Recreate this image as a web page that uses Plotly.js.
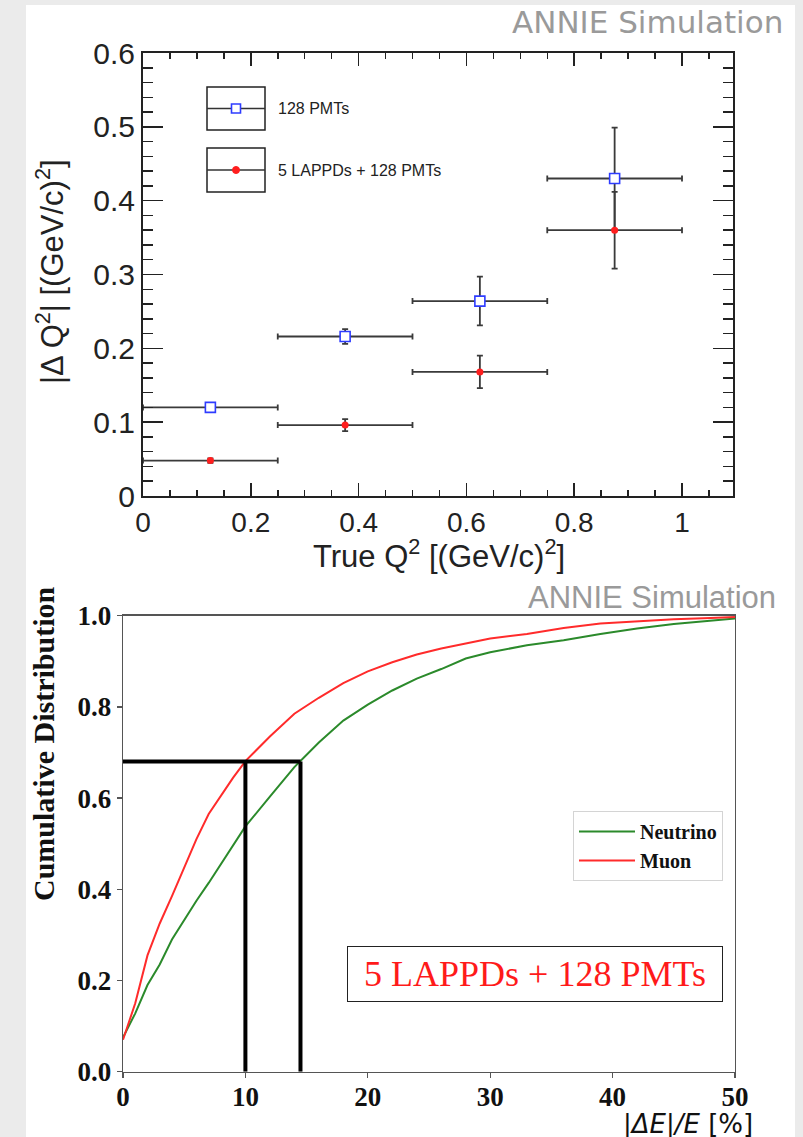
<!DOCTYPE html>
<html>
<head>
<meta charset="utf-8">
<script src="https://cdn.plot.ly/plotly-3.0.1.min.js"></script>
<style>html,body{margin:0;padding:0;background:#ebebeb;}#chart{width:803px;height:1137px;}</style>
</head>
<body>
<div id="chart"></div>
<script>
// ---------- Top panel: |ΔQ²| vs true Q² ----------
const q2Centers = [0.125, 0.375, 0.625, 0.875];
const q2HalfWidths = [0.125, 0.125, 0.125, 0.125];
const pmtDQ2 = [0.120, 0.216, 0.264, 0.430];
const pmtErr = [0.003, 0.010, 0.033, 0.069];
const lappdDQ2 = [0.048, 0.096, 0.168, 0.360];
const lappdErr = [0.003, 0.008, 0.022, 0.052];
const topSeriesNames = ['128 PMTs', '5 LAPPDs + 128 PMTs'];

// ---------- Bottom panel: cumulative |ΔE|/E ----------
const deltaE = [0, 1, 2, 3, 4, 5, 6, 7, 8, 9, 10, 12, 14, 16, 18, 20, 22, 24, 26, 28, 30, 33, 36, 39, 42, 45, 48, 50];
const neutrinoCDF = [0.075, 0.128, 0.190, 0.235, 0.290, 0.333, 0.375, 0.414, 0.455, 0.497, 0.538, 0.603, 0.668, 0.722, 0.770, 0.805, 0.836, 0.862, 0.883, 0.906, 0.920, 0.935, 0.946, 0.960, 0.972, 0.982, 0.989, 0.994];
const muonCDF = [0.070, 0.150, 0.255, 0.325, 0.385, 0.447, 0.510, 0.565, 0.606, 0.645, 0.681, 0.735, 0.785, 0.820, 0.852, 0.878, 0.898, 0.915, 0.928, 0.939, 0.950, 0.960, 0.973, 0.983, 0.988, 0.992, 0.995, 0.997];
const bottomSeriesNames = ['Neutrino', 'Muon'];
const refLevel = 0.68;
const refMuonX = 10;
const refNeutrinoX = 14.5;

const W = 803, H = 1137;
const px = x => x / W;
const py = y => 1 - y / H;

const errStyle = {type: 'data', color: '#3a3a3a', thickness: 1.8, width: 3};

const traces = [
  {
    x: q2Centers, y: pmtDQ2, name: topSeriesNames[0], xaxis: 'x', yaxis: 'y',
    type: 'scatter', mode: 'markers', showlegend: false,
    marker: {symbol: 'square', size: 10, color: 'white', line: {color: '#2e3cff', width: 1.6}},
    error_x: Object.assign({array: q2HalfWidths}, errStyle),
    error_y: Object.assign({array: pmtErr}, errStyle)
  },
  {
    x: q2Centers, y: lappdDQ2, name: topSeriesNames[1], xaxis: 'x', yaxis: 'y',
    type: 'scatter', mode: 'markers', showlegend: false,
    marker: {symbol: 'circle', size: 7, color: '#ff1e1e'},
    error_x: Object.assign({array: q2HalfWidths}, errStyle),
    error_y: Object.assign({array: lappdErr}, errStyle)
  },
  {
    x: deltaE, y: neutrinoCDF, name: bottomSeriesNames[0], xaxis: 'x2', yaxis: 'y2',
    type: 'scatter', mode: 'lines', line: {color: '#2b8a2b', width: 2}
  },
  {
    x: deltaE, y: muonCDF, name: bottomSeriesNames[1], xaxis: 'x2', yaxis: 'y2',
    type: 'scatter', mode: 'lines', line: {color: '#ff2b2b', width: 2}
  },
  {
    x: [0, refNeutrinoX, null, refMuonX, refMuonX, null, refNeutrinoX, refNeutrinoX],
    y: [refLevel, refLevel, null, 0, refLevel, null, 0, refLevel],
    xaxis: 'x2', yaxis: 'y2', type: 'scatter', mode: 'lines', showlegend: false,
    line: {color: '#000', width: 4}, hoverinfo: 'skip'
  }
];

const topXTickFont = {family: 'Liberation Sans, Arial, sans-serif', size: 28, color: '#222'};
const topYTickFont = {family: 'Liberation Sans, Arial, sans-serif', size: 30, color: '#222'};
const botTickFont = {family: 'Liberation Serif, Times New Roman, serif', size: 27, color: '#111', weight: 'bold'};

const layout = {
  width: W, height: H,
  margin: {l: 0, r: 0, t: 0, b: 0},
  paper_bgcolor: '#ebebeb',
  plot_bgcolor: 'white',
  showlegend: true,
  xaxis: {
    domain: [px(143), px(733)], range: [0, 1.0946], anchor: 'y',
    tick0: 0, dtick: 0.2, ticks: 'inside', ticklen: 13, tickwidth: 1.5, tickcolor: '#222',
    showline: true, linewidth: 2, linecolor: '#222', mirror: 'ticks',
    minor: {dtick: 0.05, ticks: 'inside', ticklen: 6, tickwidth: 1.5, tickcolor: '#222'},
    showgrid: false, zeroline: false, tickfont: topXTickFont
  },
  yaxis: {
    domain: [py(496), py(53)], range: [0, 0.6], anchor: 'x',
    tick0: 0, dtick: 0.1, ticks: 'inside', ticklen: 20, tickwidth: 1.5, tickcolor: '#222',
    showline: true, linewidth: 2, linecolor: '#222', mirror: 'ticks',
    minor: {dtick: 0.02, ticks: 'inside', ticklen: 10, tickwidth: 1.5, tickcolor: '#222'},
    showgrid: false, zeroline: false, tickfont: topYTickFont
  },
  xaxis2: {
    domain: [px(123), px(735)], range: [0, 50], anchor: 'y2',
    tick0: 0, dtick: 10, ticks: 'outside', ticklen: 5, tickwidth: 1.2, tickcolor: '#555',
    showline: true, linewidth: 1.3, linecolor: '#555', mirror: true, ticklabelstandoff: -4,
    showgrid: false, zeroline: false, tickfont: botTickFont
  },
  yaxis2: {
    domain: [py(1071.7), py(615.7)], range: [0, 1.0], anchor: 'x2',
    tick0: 0, dtick: 0.2, tickformat: '.1f', ticks: 'outside', ticklen: 5, tickwidth: 1.2, tickcolor: '#555',
    showline: true, linewidth: 1.3, linecolor: '#555', mirror: true,
    showgrid: false, zeroline: false, tickfont: botTickFont
  },
  legend: {
    x: px(573), y: py(811), xanchor: 'left', yanchor: 'top',
    bgcolor: 'white', bordercolor: '#d4d4d4', borderwidth: 1,
    font: {family: 'Liberation Serif, Times New Roman, serif', size: 20, color: '#111', weight: 'bold'},
    traceorder: 'normal', itemwidth: 56
  },
  shapes: [
    {type: 'rect', xref: 'paper', yref: 'paper', x0: px(26), x1: px(795), y0: py(1137), y1: py(5),
     fillcolor: 'white', line: {width: 0}, layer: 'below'},
    // top legend boxes
    {type: 'rect', xref: 'paper', yref: 'paper', x0: px(207), x1: px(265), y0: py(130), y1: py(87),
     line: {color: '#222', width: 1.5}, fillcolor: 'rgba(0,0,0,0)'},
    {type: 'line', xref: 'paper', yref: 'paper', x0: px(207), x1: px(265), y0: py(108.5), y1: py(108.5),
     line: {color: '#333', width: 1.5}},
    {type: 'rect', xref: 'paper', yref: 'paper', x0: px(231.5), x1: px(240.5), y0: py(113), y1: py(104),
     line: {color: '#2e3cff', width: 1.6}, fillcolor: 'white'},
    {type: 'rect', xref: 'paper', yref: 'paper', x0: px(207), x1: px(265), y0: py(192), y1: py(148),
     line: {color: '#222', width: 1.5}, fillcolor: 'rgba(0,0,0,0)'},
    {type: 'line', xref: 'paper', yref: 'paper', x0: px(207), x1: px(265), y0: py(170), y1: py(170),
     line: {color: '#333', width: 1.5}},
    {type: 'circle', xref: 'paper', yref: 'paper', x0: px(232.5), x1: px(239.5), y0: py(173.5), y1: py(166.5),
     line: {color: '#ff1e1e', width: 1}, fillcolor: '#ff1e1e'}
  ],
  annotations: [
    {text: 'ANNIE Simulation', xref: 'paper', yref: 'paper', x: px(785), y: py(22), xanchor: 'right', yanchor: 'middle',
     showarrow: false, font: {family: 'DejaVu Sans, sans-serif', size: 31, color: '#9a9a9a'}},
    {text: topSeriesNames[0], xref: 'paper', yref: 'paper', x: px(276), y: py(108.5), xanchor: 'left', yanchor: 'middle',
     showarrow: false, font: {family: 'Liberation Sans, Arial, sans-serif', size: 16, color: '#222'}},
    {text: topSeriesNames[1], xref: 'paper', yref: 'paper', x: px(276), y: py(170), xanchor: 'left', yanchor: 'middle',
     showarrow: false, font: {family: 'Liberation Sans, Arial, sans-serif', size: 16, color: '#222'}},
    {text: 'True Q<sup>2</sup> [(GeV/c)<sup>2</sup>]', xref: 'paper', yref: 'paper', x: px(439), y: py(554),
     xanchor: 'center', yanchor: 'middle', showarrow: false,
     font: {family: 'Liberation Sans, Arial, sans-serif', size: 31, color: '#222'}},
    {text: '|Δ Q<sup>2</sup>| [(GeV/c)<sup>2</sup>]', xref: 'paper', yref: 'paper', x: px(50), y: py(272),
     xanchor: 'center', yanchor: 'middle', textangle: -90, showarrow: false,
     font: {family: 'Liberation Sans, Arial, sans-serif', size: 31, color: '#222'}},
    {text: 'ANNIE Simulation', xref: 'paper', yref: 'paper', x: px(778), y: py(597), xanchor: 'right', yanchor: 'middle',
     showarrow: false, font: {family: 'Liberation Sans, Arial, sans-serif', size: 31, color: '#9a9a9a'}},
    {text: 'Cumulative Distribution', xref: 'paper', yref: 'paper', x: px(43), y: py(744),
     xanchor: 'center', yanchor: 'middle', textangle: -90, showarrow: false,
     font: {family: 'Liberation Serif, Times New Roman, serif', size: 30, color: '#111', weight: 'bold'}},
    {text: '<i>|ΔE|/E</i> [%]', xref: 'paper', yref: 'paper', x: px(688), y: py(1107),
     xanchor: 'center', yanchor: 'top', showarrow: false,
     font: {family: 'DejaVu Sans, sans-serif', size: 26, color: '#111'}},
    {text: '5 LAPPDs + 128 PMTs', xref: 'paper', yref: 'paper', x: px(534.5), y: py(973.5),
     xanchor: 'center', yanchor: 'middle', showarrow: false, width: 372, height: 52, borderpad: 1,
     bordercolor: '#222', borderwidth: 1, bgcolor: 'white',
     font: {family: 'Liberation Serif, Times New Roman, serif', size: 36, color: '#ff1a1a'}}
  ]
};

Plotly.newPlot('chart', traces, layout, {displayModeBar: false, staticPlot: true});
</script>
</body>
</html>
